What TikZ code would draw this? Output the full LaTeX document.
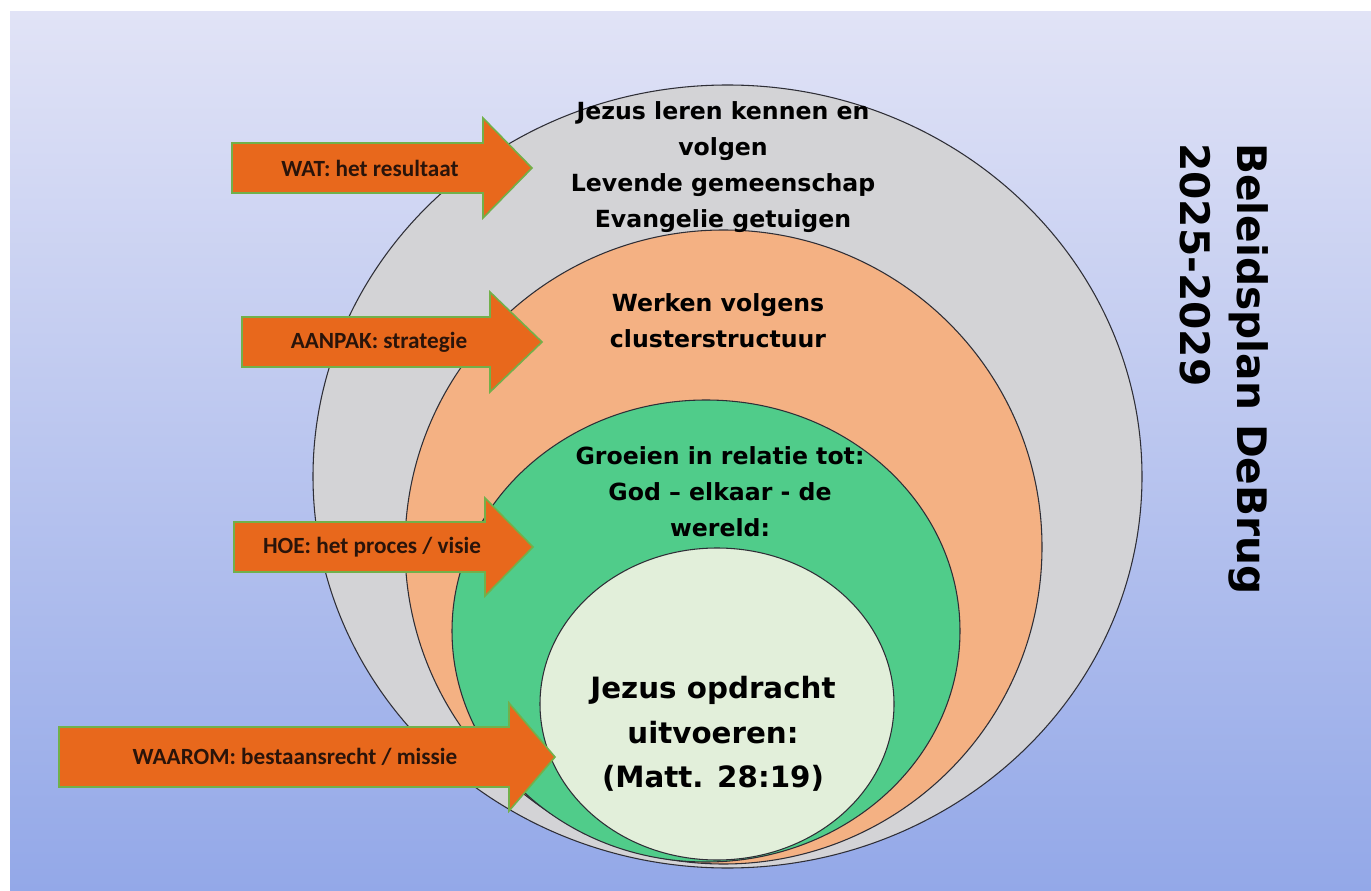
\documentclass[tikz,border=0pt]{standalone}
\usepackage{fontspec}
\usepackage{xcolor}
\usepackage{tikz}
\usetikzlibrary{calc}
\usetikzlibrary{positioning}

\newfontfamily\ringfont{DejaVu Sans}
\newfontfamily\arrowfont{Carlito}

\definecolor{bgtop}{HTML}{E1E3F6}
\definecolor{bgbottom}{HTML}{93A8E8}
\definecolor{ringline}{HTML}{2E2E36}
\definecolor{ringgray}{HTML}{D3D3D6}
\definecolor{ringorange}{HTML}{F4B183}
\definecolor{ringgreen}{HTML}{50CC8A}
\definecolor{ringlight}{HTML}{E2EFDA}
\definecolor{arroworange}{HTML}{E8681C}
\definecolor{arrowgreen}{HTML}{72B04A}
\definecolor{arrowtext}{HTML}{2A140A}

\begin{document}
\begin{tikzpicture}[
    x=0.75pt, y=-0.75pt,
    % styles
    ring/.style={draw=ringline, line width=0.8pt},
    arrowbody/.style={fill=arroworange, draw=arrowgreen, line width=1.2pt, line join=miter},
    arrowlabel/.style={font=\arrowfont\bfseries\fontsize{17.4}{20}\selectfont, text=arrowtext, inner sep=0pt},
    ringlabel/.style={font=\ringfont\bfseries\fontsize{17.7}{27}\selectfont, align=center, inner sep=0pt},
    corelabel/.style={font=\ringfont\bfseries\fontsize{22}{33.4}\selectfont, align=center, inner sep=0pt},
    titlelabel/.style={font=\ringfont\bfseries\fontsize{30.5}{42.75}\selectfont, align=left, inner sep=0pt}]

    % background
    \useasboundingbox (0,0) rectangle (1371,891);
    \shade [top color=bgtop, bottom color=bgbottom] (10,12) rectangle (1371,891);

    % rings
    \draw [ring, fill=ringgray] (727.5,476.5) ellipse [x radius=414.5, y radius=391.5];
    \draw [ring, fill=ringorange] (723.5,547) ellipse [x radius=318.5, y radius=317];
    \draw [ring, fill=ringgreen] (706,631) ellipse [x radius=254, y radius=231];
    \draw [ring, fill=ringlight] (717,704) ellipse [x radius=177, y radius=156];

    % ring texts
    \node [ringlabel] (wat) at (723,167) {Jezus leren kennen en\\volgen\\Levende gemeenschap\\Evangelie getuigen};
    \node [ringlabel] (aanpak) at (718,321) {Werken volgens\\clusterstructuur};
    \node [ringlabel] (hoe) at (720,492) {Groeien in relatie tot:\\God – elkaar - de\\wereld:};
    \node [corelabel] (waarom) at (713,734) {Jezus opdracht\\uitvoeren:\\(Matt. 28:19)};

    % arrows
    \foreach \nm/\xl/\xb/\xt/\yc/\bh/\hh/\tx/\txt in {
      watarrow/232/483/532/168/25/50/370/{WAT: het resultaat},
      aanpakarrow/242/490/542/342/25/50/379/{AANPAK: strategie},
      hoearrow/234/485/533/547/25/49/372/{HOE: het proces / visie},
      waaromarrow/59/509/555/757/30/54/295/{WAAROM: bestaansrecht / missie}
    } {
      \draw [arrowbody] (\xl,{\yc-\bh}) -- (\xb,{\yc-\bh}) -- (\xb,{\yc-\hh})
      -- (\xt,\yc) -- (\xb,{\yc+\hh}) -- (\xb,{\yc+\bh}) -- (\xl,{\yc+\bh}) -- cycle;
      \node [arrowlabel] (\nm) at (\tx,\yc) {\txt};
    }

    % title
    \node [titlelabel, rotate=-90, anchor=west] (title) at (1224,143) {Beleidsplan DeBrug\\2025-2029};

  \end{tikzpicture}
\end{document}
